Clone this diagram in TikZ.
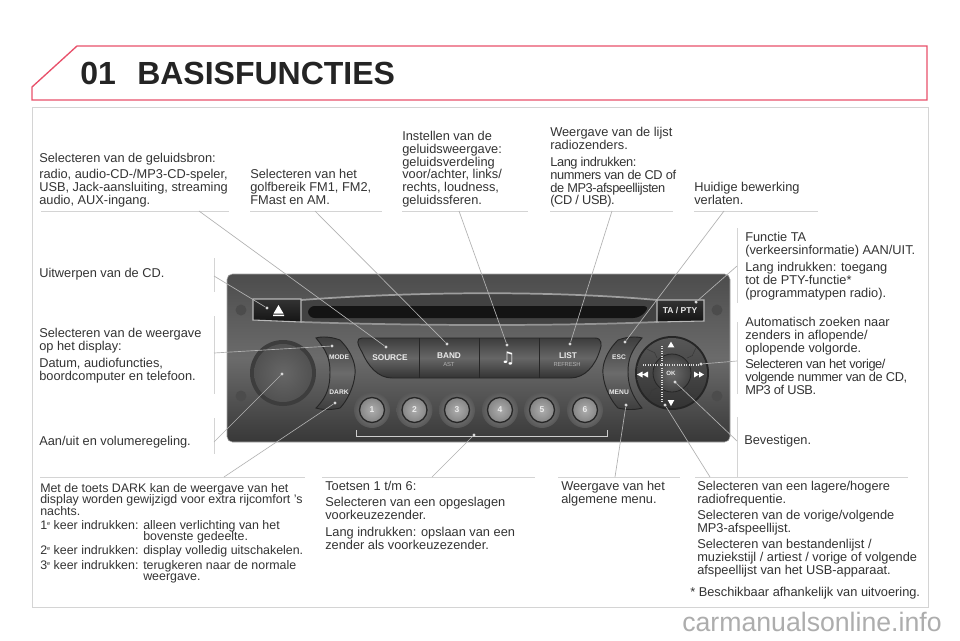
\documentclass[tikz,border=0pt]{standalone}
\usepackage{fontspec}
\setmainfont{Liberation Sans}
\newfontfamily\narrowfont{Liberation Sans}[LetterSpace=-3]
\newfontfamily\notefont{DejaVu Sans}
\usetikzlibrary{arrows.meta,calc,positioning}
\definecolor{framegray}{HTML}{D4D4D4}
\definecolor{headred}{HTML}{E8506A}
\definecolor{inktext}{HTML}{333333}
\newcommand{\ordsup}{\raisebox{3pt}{\fontsize{4.2}{4.2}\selectfont e}}
\tikzset{
  lbl/.style={inner sep=0pt, anchor=north west, align=left, text=inktext, font=\fontsize{9.6}{9.6}\selectfont},
  lblnarrow/.style={lbl, font=\fontsize{9.6}{9.6}\selectfont\narrowfont},
  lbltight/.style={lbl, font=\fontsize{9.3}{8.8}\selectfont},
  rulerline/.style={framegray, line width=0.7pt},
  leader/.style={gray!60, line width=0.5pt},
  tipdot/.style={fill=gray!30, draw=none, circle, inner sep=0pt, minimum size=2.6pt},
  btnlabel/.style={inner sep=0pt, text=white!92!black, font=\fontsize{6}{6}\selectfont\bfseries},
  sidelabel/.style={btnlabel, font=\fontsize{5}{5}\selectfont\bfseries},
  btnsub/.style={inner sep=0pt, text=white!70!black, font=\fontsize{4.4}{5}\selectfont\narrowfont},
  numbtn/.style={inner sep=0pt, text=white!92!black, font=\fontsize{6.4}{6}\selectfont\bfseries},
}
\begin{document}
\begin{tikzpicture}[x=0.75pt, y=-0.75pt, >=Latex]
  \useasboundingbox (0,0) rectangle (960,640);
  \fill[white] (0,0) rectangle (960,640);

  % heading band and frame
  \draw[headred, line width=1pt] (77,46) -- (927,46) -- (927,100) -- (32,100) -- (32,87) -- cycle;
  \draw[framegray, line width=0.7pt] (32,107) rectangle (928,607);
  \node[inner sep=0pt, anchor=base west, text=inktext!70!black, font=\fontsize{24}{24}\selectfont\bfseries] (titlenum) at (80,84) {01};
  \node[inner sep=0pt, anchor=base west, text=inktext!70!black, font=\fontsize{24}{24}\selectfont\bfseries] (titlename) at (137,84) {BASISFUNCTIES};

  % radio panel
  \shade[rounded corners=4pt, top color=black!70, bottom color=black!78, middle color=black!58, draw=gray!70, line width=0.4pt] (227,274) rectangle (730,442);
  \fill[black!74] (301,300) .. controls (420,291) and (560,291) .. (657,300) -- (657,322) .. controls (560,326) and (420,326) .. (301,322) -- cycle;
  \draw[black!38, line width=1.3pt] (301,300) .. controls (420,291) and (560,291) .. (657,300);
  \draw[black!42, line width=1.3pt] (301,322) .. controls (420,326) and (560,326) .. (657,322);
  \fill[black!92, rounded corners=5pt] (308,306) -- (650,306) -- (640,318) -- (308,318) -- cycle;
  \shade[top color=black!80, bottom color=black!92, draw=black!28, line width=0.8pt] (253,299) -- (301,299) -- (301,322) -- (253,320) -- cycle;
  \fill[white] (273,314.5) -- (284,314.5) -- (284,316) -- (273,316) -- cycle (273.5,313.5) -- (283.5,313.5) -- (278.5,305) -- cycle;
  \shade[top color=black!80, bottom color=black!92, draw=black!28, line width=0.8pt] (657,300) -- (704,300) -- (704,321) -- (657,322) -- cycle;
  \node[btnlabel, font=\fontsize{6.4}{6}\selectfont\bfseries] (tapty) at (680,310) {TA / PTY};
  \foreach \hx/\hy in {241/310, 241/396, 717/310, 717/396}
    \fill[black!70] (\hx,\hy) circle (5.5);

  % wide button row
  \shade[top color=black!76, bottom color=black!80, middle color=black!60, draw=black!85, line width=0.7pt]
    (362,338) -- (595,338) .. controls (602,338) and (602,345) .. (600,350) .. controls (595,366) and (585,378) .. (570,378) -- (392,378) .. controls (378,378) and (368,366) .. (362,352) .. controls (357,344) and (356,338) .. (362,338) -- cycle;
  \foreach \sepx in {419,479,539}
    \draw[black!85, line width=0.7pt] (\sepx,338) -- (\sepx,378);
  \node[btnlabel, font=\fontsize{6.2}{6}\selectfont\bfseries] (source) at (390,358) {SOURCE};
  \node[btnlabel, font=\fontsize{6.2}{6}\selectfont\bfseries] (band) at (449,356) {BAND};
  \node[btnsub] (ast) at (449,364) {AST};
  \node[inner sep=0pt, text=white, font=\fontsize{12}{12}\selectfont\notefont] (note) at (508,358) {♫};
  \node[btnlabel, font=\fontsize{6.2}{6}\selectfont\bfseries] (list) at (568,356) {LIST};
  \node[btnsub] (refresh) at (567,364) {REFRESH};

  % crescent buttons
  \shade[top color=black!76, bottom color=black!76, middle color=black!58, draw=black!85, line width=0.7pt]
    (316,338) .. controls (322,336) and (332,337) .. (340,340) .. controls (352,352) and (356,365) .. (355,374) .. controls (354,388) and (346,402) .. (340,408) .. controls (332,410) and (322,410) .. (316,408) .. controls (328,396) and (330,385) .. (330,372) .. controls (330,358) and (326,350) .. (316,338) -- cycle;
  \node[sidelabel] (mode) at (339,357) {MODE};
  \node[sidelabel] (dark) at (339,392) {DARK};
  \shade[top color=black!76, bottom color=black!76, middle color=black!58, draw=black!85, line width=0.7pt]
    (642,338) .. controls (636,336) and (626,337) .. (618,340) .. controls (606,352) and (602,365) .. (603,374) .. controls (604,388) and (612,402) .. (618,408) .. controls (626,410) and (636,410) .. (642,408) .. controls (632,396) and (628,385) .. (628,372) .. controls (628,358) and (632,350) .. (642,338) -- cycle;
  \node[sidelabel] (esc) at (619,357) {ESC};
  \node[sidelabel] (menu) at (619,392) {MENU};

  % volume knob
  \fill[black!76] (283,373) circle (33);
  \shade[inner color=black!60, outer color=black!68] (283,373) circle (29);

  % number keys
  \foreach \kx/\knum in {372/1, 414.5/2, 457/3, 500/4, 542/5, 585/6} {
    \shade[inner color=black!45, outer color=black!66] (\kx,410) circle (18);
    \shade[inner color=black!32, outer color=black!48, draw=black!85, line width=1pt] (\kx,410) circle (12.5);
    \node[numbtn] (key\knum) at (\kx,410) {\knum};
  }
  \draw[white!80!black, line width=0.6pt] (356,430) -- (356,436) -- (607,436) -- (607,430);

  % navigation ring
  \fill[black!85] (672,373) circle (37);
  \shade[top color=black!66, bottom color=black!80] (672,373) circle (35);
  \foreach \ang in {45,135,225,315}
    \draw[black!78, line width=0.4pt] (672,373) ++(\ang:21) -- ++(\ang+20:6) -- ++(\ang-20:8);
  \shade[inner color=black!58, outer color=black!74, draw=black!85, line width=0.6pt] (672,373) circle (19);
  \fill[white] (671,341.7) -- (674.3,347.3) -- (667.7,347.3) -- cycle (671,406) -- (674.3,400) -- (667.7,400) -- cycle;
  \fill[white] (637,374.5) -- (642.5,371.5) -- (642.5,377.5) -- cycle (642.5,374.5) -- (648,371.5) -- (648,377.5) -- cycle;
  \fill[white] (704,374.5) -- (699,371.5) -- (699,377.5) -- cycle (699,374.5) -- (694,371.5) -- (694,377.5) -- cycle;
  \node[sidelabel, font=\fontsize{4.6}{5}\selectfont\bfseries] (okkey) at (671,373) {OK};
  \draw[white!85!black, line width=0.8pt, densely dotted] (643,365) -- (700,365);
  \draw[white!85!black, line width=0.8pt, densely dotted] (662,346) -- (662,402);

  % label rules
  \draw[rulerline] (41,211) -- (229,211);
  \draw[rulerline] (250,211) -- (382,211);
  \draw[rulerline] (402,211) -- (528,211);
  \draw[rulerline] (550,211) -- (673,211);
  \draw[rulerline] (694,211) -- (818,211);
  \draw[rulerline] (214,258) -- (214,292);
  \draw[rulerline] (214,316) -- (214,394);
  \draw[rulerline] (214,418) -- (214,454);
  \draw[rulerline] (737,228) -- (737,303);
  \draw[rulerline] (737,322) -- (737,394);
  \draw[rulerline] (737,417) -- (737,478);
  \draw[rulerline] (40,477) -- (305,477);
  \draw[rulerline] (322,477) -- (535,477);
  \draw[rulerline] (558,477) -- (680,477);
  \draw[rulerline] (695,477) -- (908,477);

  % leader lines
  \coordinate (srcfoot) at (199,211);
  \coordinate (bandfoot) at (315,211);
  \coordinate (notefoot) at (459,211);
  \coordinate (listfoot) at (612,211);
  \coordinate (escfoot) at (724,211);
  \coordinate (tafoot) at (737,266);
  \coordinate (navfoot) at (737,361);
  \coordinate (okfoot) at (737,441);
  \coordinate (seekfoot) at (710,477);
  \coordinate (menufoot) at (615,477);
  \coordinate (keysfoot) at (432,477);
  \coordinate (darkfoot) at (224,477);
  \coordinate (knobfoot) at (214,442);
  \coordinate (modefoot) at (214,353);
  \coordinate (ejectfoot) at (214,276);
  \foreach \foot/\tx/\ty/\tname in {srcfoot/386/347/srctip, bandfoot/447/344/bandtip, notefoot/507/345/notetip, listfoot/570/344/listtip,
      escfoot/625/342/esctip, tafoot/696/302/tatip, navfoot/701/364/navtip, okfoot/675/382/oktip, seekfoot/665/405/seektip,
      menufoot/626/405/menutip, keysfoot/474/435/keystip, darkfoot/335/403/darktip, knobfoot/282/374/knobtip, modefoot/332/346/modetip, ejectfoot/267/308/ejecttip} {
    \node[tipdot] (\tname) at (\tx,\ty) {};
    \draw[leader] (\foot) -- (\tname);
  }

  % labels above
  \node[lbl] (srchead) at (39,153) {Selecteren van de geluidsbron:};
  \node[lbl] (srctext) at (39,169) {radio, audio-CD-/MP3-CD-speler,\\USB, Jack-aansluiting, streaming\\audio, AUX-ingang.};
  \node[lbl] (bandtext) at (250,169) {Selecteren van het\\golfbereik FM1, FM2,\\FMast en AM.};
  \node[lbl] (notetext) at (402,131) {Instellen van de\\geluidsweergave:\\geluidsverdeling\\voor/achter, links/\\rechts, loudness,\\geluidssferen.};
  \node[lbl] (listhead) at (550,127) {Weergave van de lijst\\radiozenders.};
  \node[lblnarrow] (listtext) at (550,157) {Lang indrukken:\\nummers van de CD of\\de MP3-afspeellijsten\\(CD / USB).};
  \node[lbl] (esctext) at (694,182) {Huidige bewerking\\verlaten.};

  % labels left
  \node[lbl] (ejecttext) at (39,268) {Uitwerpen van de CD.};
  \node[lbl] (modehead) at (39,328) {Selecteren van de weergave\\op het display:};
  \node[lbl] (modetext) at (39,358) {Datum, audiofuncties,\\boordcomputer en telefoon.};
  \node[lbl] (knobtext) at (39,436) {Aan/uit en volumeregeling.};

  % labels right
  \node[lbl] (tahead) at (745,232) {Functie TA\\(verkeersinformatie) AAN/UIT.};
  \node[lbl] (tatext) at (745,262) {Lang indrukken: toegang\\tot de PTY-functie*\\(programmatypen radio).};
  \node[lbl] (navhead) at (745,317) {Automatisch zoeken naar\\zenders in aflopende/\\oplopende volgorde.};
  \node[lblnarrow] (navtext) at (745,359) {Selecteren van het vorige/\\volgende nummer van de CD,\\MP3 of USB.};
  \node[lbl] (oktext) at (744,435) {Bevestigen.};

  % labels below
  \node[lbltight] (darkhead) at (40,483) {Met de toets DARK kan de weergave van het\\display worden gewijzigd voor extra rijcomfort 's\\nachts.};
  \node[lbltight] (darkone) at (40,520) {1\ordsup{} keer indrukken:};
  \node[lbltight] (darkonetext) at (143,520) {alleen verlichting van het\\bovenste gedeelte.};
  \node[lbltight] (darktwo) at (40,545) {2\ordsup{} keer indrukken:};
  \node[lbltight] (darktwotext) at (143,545) {display volledig uitschakelen.};
  \node[lbltight] (darkthree) at (40,560) {3\ordsup{} keer indrukken:};
  \node[lbltight] (darkthreetext) at (143,560) {terugkeren naar de normale\\weergave.};
  \node[lbl] (keyshead) at (325,481) {Toetsen 1 t/m 6:};
  \node[lbl] (keystext) at (325,497) {Selecteren van een opgeslagen\\voorkeuzezender.};
  \node[lbl] (keyslong) at (325,527) {Lang indrukken: opslaan van een\\zender als voorkeuzezender.};
  \node[lbl] (menutext) at (561,481) {Weergave van het\\algemene menu.};
  \node[lbl] (seekone) at (697,481) {Selecteren van een lagere/hogere\\radiofrequentie.};
  \node[lbl] (seektwo) at (697,510) {Selecteren van de vorige/volgende\\MP3-afspeellijst.};
  \node[lbl] (seekthree) at (697,539) {Selecteren van bestandenlijst /\\muziekstijl / artiest / vorige of volgende\\afspeellijst van het USB-apparaat.};
  \node[lbl] (footnote) at (690,587) {* Beschikbaar afhankelijk van uitvoering.};
  \node[inner sep=0pt, anchor=base west, text=black!32, font=\fontsize{20}{20}\selectfont] (siteline) at (682,631) {carmanualsonline.info};
\end{tikzpicture}
\end{document}
